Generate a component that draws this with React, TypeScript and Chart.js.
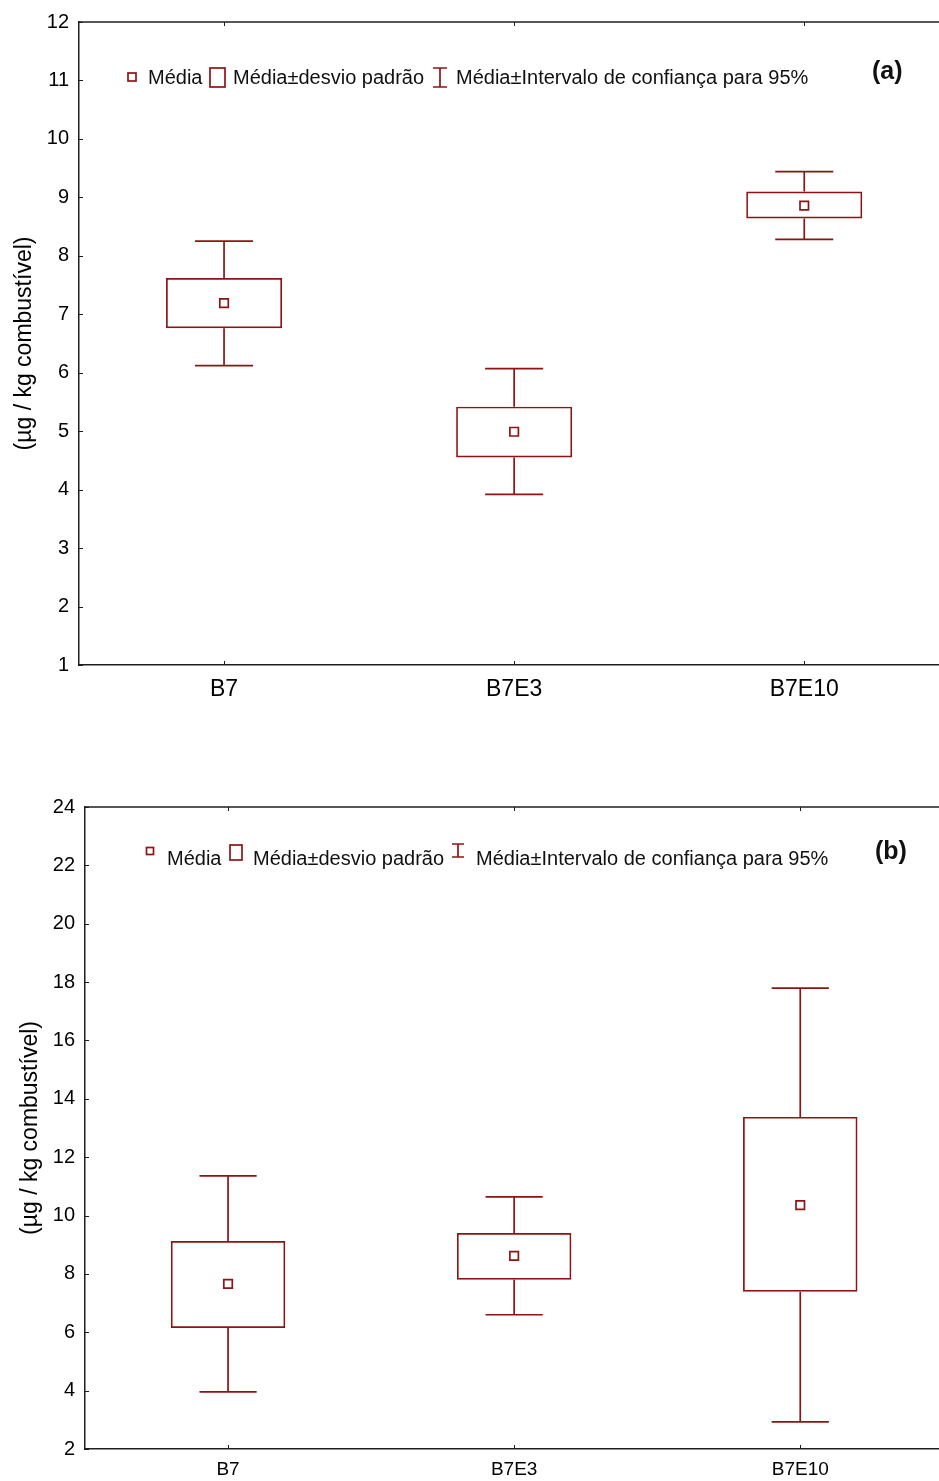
import React, { useEffect, useRef } from "react";
import { Chart, registerables } from "chart.js";

Chart.register(...registerables);

const categories = ["B7", "B7E3", "B7E10"];

// Panel (a)
const meanA = [7.19, 4.99, 8.86];
const sdLowA = [6.76, 4.55, 8.64];
const sdHighA = [7.62, 5.42, 9.1];
const ciLowA = [6.12, 3.92, 8.28];
const ciHighA = [8.25, 6.07, 9.44];
const yMinA = 1;
const yMaxA = 12;
const yStepA = 1;

// Panel (b)
const meanB = [7.66, 8.62, 10.36];
const sdLowB = [6.15, 7.8, 7.39];
const sdHighB = [9.13, 9.4, 13.38];
const ciLowB = [3.96, 6.6, 2.93];
const ciHighB = [11.36, 10.64, 17.79];
const yMinB = 2;
const yMaxB = 24;
const yStepB = 2;

const yTitle = "(µg / kg combustível)";
const legendTexts = ["Média", "Média±desvio padrão", "Média±Intervalo de confiança para 95%"];

const RED = "#8e1414";
const AXIS = "#1e1e1e";
const FONT = "'Liberation Sans', Arial, sans-serif";
const LW = 1.7;

const whiskerPlugin = {
  id: "whiskers",
  afterDatasetsDraw(chart: any, _args: any, opts: any) {
    const { ctx, scales } = chart;
    const x = scales.x;
    const y = scales.y;
    const capHalf = (x.width / categories.length) * 0.1;
    ctx.save();
    ctx.strokeStyle = RED;
    ctx.lineWidth = LW;
    opts.low.forEach((lo: number, i: number) => {
      const px = x.getPixelForValue(i);
      const yHi = y.getPixelForValue(opts.high[i]);
      const yLo = y.getPixelForValue(lo);
      const yBoxHi = y.getPixelForValue(opts.boxHigh[i]);
      const yBoxLo = y.getPixelForValue(opts.boxLow[i]);
      ctx.beginPath();
      ctx.moveTo(px, yHi);
      ctx.lineTo(px, yBoxHi);
      ctx.moveTo(px, yBoxLo);
      ctx.lineTo(px, yLo);
      ctx.moveTo(px - capHalf, yHi);
      ctx.lineTo(px + capHalf, yHi);
      ctx.moveTo(px - capHalf, yLo);
      ctx.lineTo(px + capHalf, yLo);
      ctx.stroke();
    });
    ctx.restore();
  },
};

const framePlugin = {
  id: "frame",
  afterDraw(chart: any) {
    const { ctx, chartArea, scales } = chart;
    ctx.save();
    ctx.strokeStyle = AXIS;
    ctx.lineWidth = 1.5;
    ctx.beginPath();
    ctx.moveTo(chartArea.left, chartArea.top);
    ctx.lineTo(chartArea.right + 10, chartArea.top);
    ctx.stroke();
    ctx.lineWidth = 1;
    ctx.beginPath();
    scales.y.ticks.forEach((t: any) => {
      const py = Math.round(scales.y.getPixelForValue(t.value)) + 0.5;
      ctx.moveTo(chartArea.left, py);
      ctx.lineTo(chartArea.left + 4, py);
    });
    categories.forEach((_c, i) => {
      const px = Math.round(scales.x.getPixelForValue(i)) + 0.5;
      ctx.moveTo(px, chartArea.bottom);
      ctx.lineTo(px, chartArea.bottom - 4);
      ctx.moveTo(px, chartArea.top);
      ctx.lineTo(px, chartArea.top + 4);
    });
    ctx.stroke();
    ctx.restore();
  },
};

const legendPlugin = {
  id: "boxLegend",
  afterDraw(chart: any, _args: any, o: any) {
    const { ctx } = chart;
    ctx.save();
    ctx.strokeStyle = RED;
    ctx.lineWidth = LW;
    ctx.strokeRect(o.sq.cx - o.sq.s / 2, o.sq.cy - o.sq.s / 2, o.sq.s, o.sq.s);
    ctx.strokeRect(o.rect.x, o.rect.y, o.rect.w, o.rect.h);
    ctx.beginPath();
    ctx.moveTo(o.ib.cx, o.ib.top);
    ctx.lineTo(o.ib.cx, o.ib.bottom);
    ctx.moveTo(o.ib.cx - o.ib.half, o.ib.top);
    ctx.lineTo(o.ib.cx + o.ib.half, o.ib.top);
    ctx.moveTo(o.ib.cx - o.ib.half, o.ib.bottom);
    ctx.lineTo(o.ib.cx + o.ib.half, o.ib.bottom);
    ctx.stroke();
    ctx.fillStyle = "#111";
    ctx.textBaseline = "middle";
    ctx.textAlign = "left";
    ctx.font = `${o.fontSize}px ${FONT}`;
    legendTexts.forEach((t, i) => {
      ctx.fillText(t, o.textX[i], o.textY);
    });
    ctx.font = `bold ${o.panelSize}px ${FONT}`;
    ctx.fillText(o.panel, o.panelX, o.panelY);
    ctx.restore();
  },
};

function makeConfig(p: any) {
  return {
    type: "bar",
    data: {
      labels: categories,
      datasets: [
        {
          type: "bar",
          data: categories.map((_c, i) => [p.sdLow[i], p.sdHigh[i]]),
          backgroundColor: "rgba(0,0,0,0)",
          borderColor: RED,
          borderWidth: LW,
          borderSkipped: false,
          barPercentage: 0.4,
          categoryPercentage: 1,
          order: 2,
        },
        {
          type: "line",
          data: p.mean,
          showLine: false,
          pointStyle: "rect",
          pointRadius: 6,
          pointBackgroundColor: "#ffffff",
          pointBorderColor: RED,
          pointBorderWidth: LW,
          order: 1,
        },
      ],
    },
    options: {
      responsive: false,
      animation: false,
      devicePixelRatio: 1,
      layout: { padding: { top: p.padTop, left: 0, right: 0, bottom: 0 } },
      plugins: {
        legend: { display: false },
        tooltip: { enabled: false },
        whiskers: { low: p.ciLow, high: p.ciHigh, boxLow: p.sdLow, boxHigh: p.sdHigh },
        boxLegend: p.legend,
      },
      scales: {
        x: {
          type: "category",
          offset: true,
          grid: { display: false, drawTicks: false },
          border: { display: true, color: AXIS, width: 1.5 },
          ticks: { color: "#000", font: { size: p.xFont, family: FONT }, padding: p.xPad, maxRotation: 0 },
          afterFit: (s: any) => {
            s.height = p.xHeight;
          },
        },
        y: {
          type: "linear",
          min: p.yMin,
          max: p.yMax,
          grid: { display: false, drawTicks: false },
          border: { display: true, color: AXIS, width: 1.5 },
          ticks: { stepSize: p.yStep, color: "#000", font: { size: p.yFont, family: FONT }, padding: 10 },
          title: {
            display: true,
            text: yTitle,
            color: "#000",
            font: { size: 23, family: FONT },
            padding: { top: p.titlePad, bottom: 0 },
          },
          afterFit: (s: any) => {
            s.width = p.yWidth;
          },
        },
      },
    },
    plugins: [whiskerPlugin, framePlugin, legendPlugin],
  };
}

function Panel(props: { params: any; left: number; top: number; width: number; height: number }) {
  const ref = useRef<HTMLCanvasElement | null>(null);
  useEffect(() => {
    const chart = new Chart(ref.current as HTMLCanvasElement, makeConfig(props.params) as any);
    return () => chart.destroy();
  }, []);
  return (
    <div style={{ position: "absolute", left: props.left, top: props.top, width: props.width, height: props.height }}>
      <canvas ref={ref} width={props.width} height={props.height} style={{ display: "block" }} />
    </div>
  );
}

const paramsA = {
  mean: meanA,
  sdLow: sdLowA,
  sdHigh: sdHighA,
  ciLow: ciLowA,
  ciHigh: ciHighA,
  yMin: yMinA,
  yMax: yMaxA,
  yStep: yStepA,
  padTop: 20,
  xHeight: 55,
  yWidth: 79,
  xFont: 23,
  yFont: 20,
  xPad: 11,
  titlePad: 11,
  legend: {
    sq: { cx: 132, cy: 77, s: 8 },
    rect: { x: 210, y: 68, w: 15, h: 19 },
    ib: { cx: 440, top: 68, bottom: 87, half: 7 },
    textX: [148, 233, 456],
    textY: 78,
    fontSize: 20,
    panel: "(a)",
    panelX: 872,
    panelY: 72,
    panelSize: 25,
  },
};

const paramsB = {
  mean: meanB,
  sdLow: sdLowB,
  sdHigh: sdHighB,
  ciLow: ciLowB,
  ciHigh: ciHighB,
  yMin: yMinB,
  yMax: yMaxB,
  yStep: yStepB,
  padTop: 47,
  xHeight: 32,
  yWidth: 85,
  xFont: 19,
  yFont: 20,
  xPad: 9,
  titlePad: 17,
  legend: {
    sq: { cx: 150, cy: 91, s: 7 },
    rect: { x: 230, y: 85, w: 12, h: 15 },
    ib: { cx: 458, top: 84, bottom: 97, half: 6 },
    textX: [167, 253, 476],
    textY: 99,
    fontSize: 20,
    panel: "(b)",
    panelX: 875,
    panelY: 92,
    panelSize: 25,
  },
};

export default function App() {
  useEffect(() => {
    document.body.style.margin = "0";
  }, []);
  return (
    <div style={{ position: "relative", width: 939, height: 1481, overflow: "hidden", background: "#fff" }}>
      <Panel params={paramsA} left={0} top={0} width={957} height={720} />
      <Panel params={paramsB} left={0} top={760} width={951} height={721} />
    </div>
  );
}
